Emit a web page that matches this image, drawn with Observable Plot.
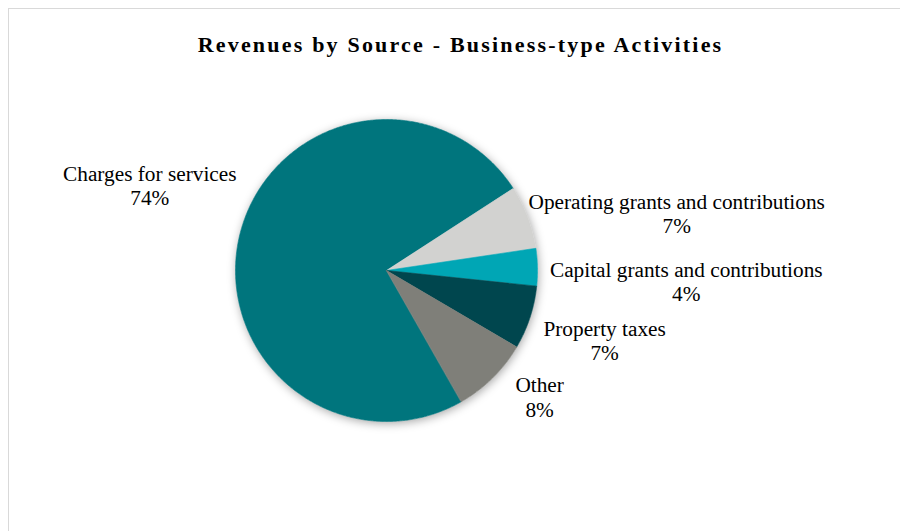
<!DOCTYPE html>
<html><head><meta charset="utf-8">
<script src="https://cdn.jsdelivr.net/npm/d3@7"></script>
<script src="https://cdn.jsdelivr.net/npm/@observablehq/plot@0.6"></script>
<style>
html,body{margin:0;padding:0;background:#fff;}
#wrap{position:relative;width:900px;height:531px;overflow:hidden;}
#border{position:absolute;left:8px;top:8px;width:1200px;height:1200px;border-left:1.5px solid #D9D9D9;border-top:1.5px solid #D9D9D9;}
#chart{position:absolute;left:0;top:0;}
</style></head><body>
<div id="wrap"><div id="border"></div><div id="chart"></div></div>
<script>
// ---- data ----
const title = "Revenues by Source - Business-type Activities";
const categories = ["Charges for services", "Operating grants and contributions", "Capital grants and contributions", "Property taxes", "Other"];
const shares = [74.1, 6.8, 4.0, 6.8, 8.3];
const percentLabels = ["74%", "7%", "4%", "7%", "8%"];
const colors = ["#00757D", "#D2D2D0", "#00A6B5", "#00464E", "#7F7F79"];

// ---- layout ----
const W = 900, H = 531, CX = 386, CY = 270, R = 151;
const startDeg = 150.3;
const labelSize = 21.3;
const labelFont = labelSize + "px 'Liberation Serif'";
const labelNudge = [[4, -40], [1, 10], [2.5, 17], [7, 13.5], [23, -3.6]];

const rows = categories.map((c, i) => ({name: c, share: shares[i], pct: percentLabels[i], color: colors[i], i}));
const toRad = d => d * Math.PI / 180;
const arcs = d3.pie().sort(null).value(d => d.share)
  .startAngle(toRad(startDeg)).endAngle(toRad(startDeg + 360))(rows);

function arcPoly(a0, a1, withCenter) {
  const pts = withCenter ? [{x: 0, y: 0}] : [];
  const n = Math.max(2, Math.ceil((a1 - a0) / toRad(0.5)));
  for (let k = 0; k <= n; k++) {
    const a = a0 + (a1 - a0) * k / n;
    pts.push({x: Math.sin(a), y: Math.cos(a)});
  }
  return pts;
}

const ctx = document.createElement("canvas").getContext("2d");
ctx.font = labelFont;
const labelRows = arcs.map(a => {
  const d = a.data;
  const mid = (a.startAngle + a.endAngle) / 2;
  const ux = Math.sin(mid), uy = -Math.cos(mid);
  const w = Math.max(ctx.measureText(d.name).width, ctx.measureText(d.pct).width);
  const h = 48;
  const px = (R + 10) * ux + ux * w / 2 + labelNudge[d.i][0];
  const py = (R + 10) * uy + uy * h / 2 + h / 2 - 6 + labelNudge[d.i][1];
  return {x: px / R, y: -py / R, text: d.name + "\n" + d.pct};
});

const plot = Plot.plot({
  width: W, height: H, margin: 0,
  x: {domain: [-CX / R, (W - CX) / R], axis: null},
  y: {domain: [-(H - CY) / R, CY / R], axis: null},
  marks: [
    Plot.line(arcPoly(0, 2 * Math.PI, false), {x: "x", y: "y", fill: "white", stroke: "none", curve: "linear-closed"}),
    ...arcs.map(a => Plot.line(arcPoly(a.startAngle, a.endAngle, true), {
      x: "x", y: "y", fill: a.data.color, stroke: a.data.color, strokeWidth: 0.6, curve: "linear-closed"
    })),
    Plot.text(labelRows, {
      x: "x", y: "y", text: "text", textAnchor: "middle", lineAnchor: "bottom", lineHeight: 1.13,
      fontSize: labelSize, fontFamily: "'Liberation Serif', 'Times New Roman', serif", fill: "#000"
    }),
    Plot.text([title], {
      frameAnchor: "top", dx: 10, dy: 51, lineAnchor: "bottom", fontSize: 22, fontWeight: "bold",
      fontFamily: "'Liberation Serif', 'Times New Roman', serif", fill: "#000"
    })
  ]
});
plot.style.background = "transparent";
const lineGroups = plot.querySelectorAll('g[aria-label="line"]');
lineGroups[0].style.filter = "drop-shadow(1px 2px 5px rgba(0,0,0,0.35))";
const textGroups = plot.querySelectorAll('g[aria-label="text"]');
textGroups[textGroups.length - 1].querySelectorAll("text").forEach(t => t.setAttribute("letter-spacing", "2.2px"));
document.getElementById("chart").appendChild(plot);
</script>
</body></html>
